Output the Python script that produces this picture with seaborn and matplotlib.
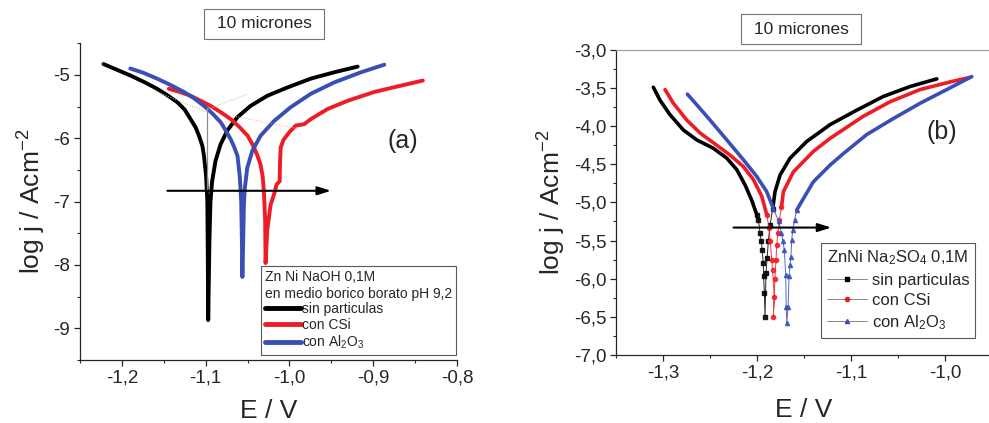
import numpy as np
import matplotlib
matplotlib.use('Agg')
import matplotlib.pyplot as plt
import seaborn as sns
from matplotlib.lines import Line2D
from matplotlib.ticker import MultipleLocator, FuncFormatter

# ---- data, panel (a): NaOH 0,1M + borico borato
a_black_E = [-1.222, -1.206, -1.190, -1.174, -1.158, -1.146, -1.134, -1.125, -1.118, -1.112, -1.108,
             -1.104, -1.102, -1.0995, -1.098, -1.0975, -1.097, -1.0955, -1.0943, -1.0923, -1.0883,
             -1.0823, -1.0743, -1.0623, -1.0464, -1.0264, -1.0025, -0.9746, -0.9466, -0.9186]
a_black_j = [-4.83, -4.92, -5.01, -5.11, -5.22, -5.32, -5.43, -5.55, -5.70, -5.83, -5.96,
             -6.12, -6.28, -6.60, -7.00, -7.80, -8.87, -7.60, -7.00, -6.68, -6.36,
             -6.10, -5.88, -5.67, -5.49, -5.33, -5.20, -5.06, -4.96, -4.87]

a_red_E = [-1.144, -1.131, -1.118, -1.106, -1.094, -1.082, -1.070, -1.060, -1.050, -1.044, -1.038,
           -1.0345, -1.032, -1.0305, -1.029, -1.0285, -1.0265, -1.0225, -1.0185, -1.0153, -1.0117,
           -1.0113, -1.0105, -1.0073, -1.0005, -0.9925, -0.9826, -0.9746, -0.9546, -0.9306, -0.8987,
           -0.8668, -0.8408]
a_red_j = [-5.22, -5.27, -5.33, -5.41, -5.49, -5.59, -5.70, -5.82, -5.96, -6.10, -6.28,
           -6.42, -6.60, -6.84, -7.30, -7.97, -7.45, -7.05, -6.89, -6.73, -6.68,
           -6.41, -6.15, -6.03, -5.91, -5.80, -5.78, -5.70, -5.54, -5.41, -5.27,
           -5.17, -5.09]

a_blue_E = [-1.190, -1.174, -1.158, -1.142, -1.126, -1.114, -1.102, -1.092, -1.082, -1.076, -1.070,
            -1.066, -1.062, -1.0592, -1.0576, -1.0568, -1.0562, -1.0552, -1.0544, -1.0532, -1.0504,
            -1.0444, -1.0344, -1.0185, -0.9985, -0.9746, -0.9466, -0.9147, -0.8868]
a_blue_j = [-4.90, -4.97, -5.06, -5.16, -5.27, -5.37, -5.49, -5.61, -5.75, -5.88, -6.02,
            -6.14, -6.28, -6.62, -7.00, -7.60, -8.19, -7.60, -7.05, -6.78, -6.47,
            -6.20, -5.96, -5.73, -5.51, -5.30, -5.12, -4.96, -4.84]

# faint Tafel construction lines in (a)
tafel_vert_E = [-1.098, -1.098]
tafel_vert_j = [-5.52, -6.80]
tafel_left_E = [-1.162, -1.098]
tafel_left_j = [-5.25, -5.59]
tafel_right_E = [-1.098, -1.050]
tafel_right_j = [-5.55, -5.30]
tafel_red_E = [-1.067, -0.99]
tafel_red_j = [-5.65, -5.85]

# ---- data, panel (b): Na2SO4 0,1M
b_black_E = [-1.3103, -1.3032, -1.2926, -1.2784, -1.2642, -1.2465, -1.2322, -1.2216, -1.2128, -1.2057,
             -1.2003, -1.1986, -1.1968, -1.1955, -1.1945, -1.1935, -1.1930, -1.1922, -1.1915,
             -1.1905, -1.1893, -1.1880, -1.1862, -1.1833, -1.1809, -1.1755, -1.1649, -1.1471,
             -1.1223, -1.0939, -1.0656, -1.0372, -1.0088]
b_black_j = [-3.49, -3.66, -3.85, -4.05, -4.18, -4.29, -4.42, -4.57, -4.77, -4.97,
             -5.16, -5.23, -5.40, -5.51, -5.62, -5.79, -5.97, -6.19, -6.50,
             -5.93, -5.73, -5.51, -5.30, -5.08, -4.86, -4.64, -4.42, -4.20,
             -3.98, -3.79, -3.61, -3.48, -3.38]

b_red_E = [-1.2979, -1.2890, -1.2748, -1.2606, -1.2429, -1.2287, -1.2146, -1.2039, -1.1950, -1.1897,
           -1.1872, -1.1860, -1.1844, -1.1835, -1.1816, -1.1827, -1.1810, -1.1798, -1.1791, -1.1778,
           -1.1763, -1.1740, -1.1720, -1.1614, -1.1400, -1.1223, -1.0869, -1.0585, -1.0266, -0.9947,
           -0.9734]
b_red_j = [-3.52, -3.70, -3.92, -4.09, -4.25, -4.38, -4.53, -4.70, -4.92, -5.16,
           -5.34, -5.51, -5.75, -5.89, -6.24, -6.50, -6.00, -5.75, -5.56, -5.40,
           -5.23, -5.06, -4.86, -4.60, -4.33, -4.16, -3.87, -3.68, -3.52, -3.42,
           -3.36]

b_blue_E = [-1.2741, -1.2535, -1.2322, -1.2146, -1.2003, -1.1897, -1.1827, -1.1770, -1.1740, -1.1725,
            -1.1710, -1.1695, -1.1690, -1.1684, -1.1670, -1.1660, -1.1649, -1.1640, -1.1631, -1.1620,
            -1.1600, -1.1578, -1.1507, -1.1401, -1.1223, -1.1082, -1.0833, -1.0550, -1.0266, -0.9982,
            -0.9716]
b_blue_j = [-3.58, -3.87, -4.18, -4.44, -4.66, -4.86, -5.08, -5.25, -5.40, -5.51,
            -5.62, -5.95, -6.37, -6.58, -6.37, -5.97, -5.82, -5.71, -5.49, -5.36,
            -5.23, -5.10, -4.95, -4.73, -4.51, -4.36, -4.11, -3.90, -3.70, -3.52,
            -3.35]

labels = ['sin particulas', 'con CSi', 'con Al$_2$O$_3$']
colors = ['black', '#ee1c24', '#3a4fb5']
b_markers = ['s', 'o', '^']

sns.set_style('ticks')
plt.rcParams['font.family'] = ['Liberation Sans', 'DejaVu Sans']
plt.rcParams['mathtext.fontset'] = 'custom'
plt.rcParams['mathtext.rm'] = 'Liberation Sans'
plt.rcParams['mathtext.default'] = 'regular'


def comma_fmt(decimals):
    return FuncFormatter(lambda v, p: f'{v:.{decimals}f}'.replace('.', ','))


fig = plt.figure(figsize=(9.89, 4.23), dpi=100)
ax1 = fig.add_axes([0.0809, 0.149, 0.3812, 0.749])
ax2 = fig.add_axes([0.6229, 0.161, 0.3802, 0.721])

# ---------------- panel (a)
for E, j, c in zip([a_black_E, a_red_E, a_blue_E], [a_black_j, a_red_j, a_blue_j], colors):
    sns.lineplot(x=E, y=j, sort=False, estimator=None, color=c, lw=2.8, ax=ax1)

ax1.plot(tafel_vert_E, tafel_vert_j, color='0.55', lw=0.9)
ax1.plot(tafel_left_E, tafel_left_j, color='0.7', lw=0.7, ls=':')
ax1.plot(tafel_right_E, tafel_right_j, color='0.7', lw=0.7, ls=':')
ax1.plot(tafel_red_E, tafel_red_j, color='#f5a0a0', lw=0.7, ls=':')

ax1.annotate('', xy=(-0.947, -6.83), xytext=(-1.149, -6.83),
             arrowprops=dict(arrowstyle='-|>,head_length=0.8,head_width=0.25', color='black', lw=1.5))
ax1.text(-0.865, -6.05, '(a)', fontsize=18, ha='center', va='center')

ax1.set_xlim(-1.25, -0.8)
ax1.set_ylim(-9.5, -4.5)
ax1.xaxis.set_major_locator(MultipleLocator(0.1))
ax1.xaxis.set_minor_locator(MultipleLocator(0.05))
ax1.yaxis.set_major_locator(MultipleLocator(1))
ax1.yaxis.set_minor_locator(MultipleLocator(0.5))
ax1.xaxis.set_major_formatter(comma_fmt(1))
ax1.yaxis.set_major_formatter(comma_fmt(0))
sns.despine(ax=ax1)
ax1.set_xlabel('E / V', fontsize=19, labelpad=9)
ax1.set_ylabel('log j / Acm$^{-2}$', fontsize=19, labelpad=4)

h1 = [Line2D([], [], color=c, lw=3.5) for c in colors]
leg1 = ax1.legend(h1, labels, title='Zn Ni NaOH 0,1M\nen medio borico borato pH 9,2',
                  loc='lower right', bbox_to_anchor=(0.998, 0.015), fontsize=10, title_fontsize=10,
                  alignment='left', handlelength=2.6, handletextpad=0.05, labelspacing=0.12,
                  borderpad=0.3, borderaxespad=0.0, frameon=True, fancybox=False, edgecolor='0.35',
                  framealpha=1)
leg1.get_frame().set_linewidth(0.8)

# ---------------- panel (b)
for E, j, c, m in zip([b_black_E, b_red_E, b_blue_E], [b_black_j, b_red_j, b_blue_j], colors, b_markers):
    E = np.array(E)
    j = np.array(j)
    spike = j < -5.0
    ax2.plot(E, j, color=c, lw=0.7, marker=m, ms=3.0, markevery=list(spike), alpha=0.85)
    # the dense, upper part of each branch is drawn heavy
    k = int(np.argmin(j))
    for part in (np.arange(0, k + 1), np.arange(k, len(j))):
        sel = part[j[part] > -5.2]
        sns.lineplot(x=E[sel], y=j[sel], sort=False, estimator=None, color=c, lw=2.6, ax=ax2)

ax2.annotate('', xy=(-1.118, -5.33), xytext=(-1.228, -5.33),
             arrowprops=dict(arrowstyle='-|>,head_length=0.8,head_width=0.25', color='black', lw=1.5))
ax2.text(-1.003, -4.08, '(b)', fontsize=18, ha='center', va='center')

ax2.set_xlim(-1.35, -0.95)
ax2.set_ylim(-7.0, -3.0)
ax2.xaxis.set_major_locator(MultipleLocator(0.1))
ax2.xaxis.set_minor_locator(MultipleLocator(0.05))
ax2.yaxis.set_major_locator(MultipleLocator(0.5))
ax2.yaxis.set_minor_locator(MultipleLocator(0.25))
ax2.xaxis.set_major_formatter(comma_fmt(1))
ax2.yaxis.set_major_formatter(comma_fmt(1))
ax2.spines['right'].set_visible(False)
ax2.spines['top'].set_color('0.6')
ax2.spines['top'].set_linewidth(0.8)
ax2.set_xlabel('E / V', fontsize=19, labelpad=12)
ax2.set_ylabel('log j / Acm$^{-2}$', fontsize=19, labelpad=4)

h2 = [Line2D([], [], color='0.45', lw=0.6, marker=m, ms=3, markerfacecolor=c, markeredgecolor=c)
      for c, m in zip(colors, b_markers)]
leg2 = ax2.legend(h2, labels, title='ZnNi Na$_2$SO$_4$ 0,1M', loc='lower left',
                  bbox_to_anchor=(0.545, 0.056), fontsize=12, title_fontsize=12, alignment='left',
                  handlelength=2.4, handletextpad=0.3, labelspacing=0.32, borderpad=0.35,
                  borderaxespad=0.0, frameon=True, fancybox=False, edgecolor='0.35', framealpha=1)
leg2.get_frame().set_linewidth(0.8)

for ax in (ax1, ax2):
    ax.tick_params(axis='both', which='major', direction='out', length=4, width=0.9, labelsize=13.5,
                   pad=3)
    ax.tick_params(axis='both', which='minor', direction='out', length=2.5, width=0.8)
    for s in ('left', 'bottom'):
        ax.spines[s].set_linewidth(0.9)

# title boxes
box = dict(boxstyle='square,pad=0.42', facecolor='white', edgecolor='0.45', lw=0.8)
fig.text(264 / 989, 1 - 24 / 423, ' 10 micrones ', fontsize=12.5, ha='center', va='center', bbox=box)
fig.text(801 / 989, 1 - 29 / 423, ' 10 micrones ', fontsize=12.5, ha='center', va='center', bbox=box)

fig.savefig('out.png', dpi=100)
